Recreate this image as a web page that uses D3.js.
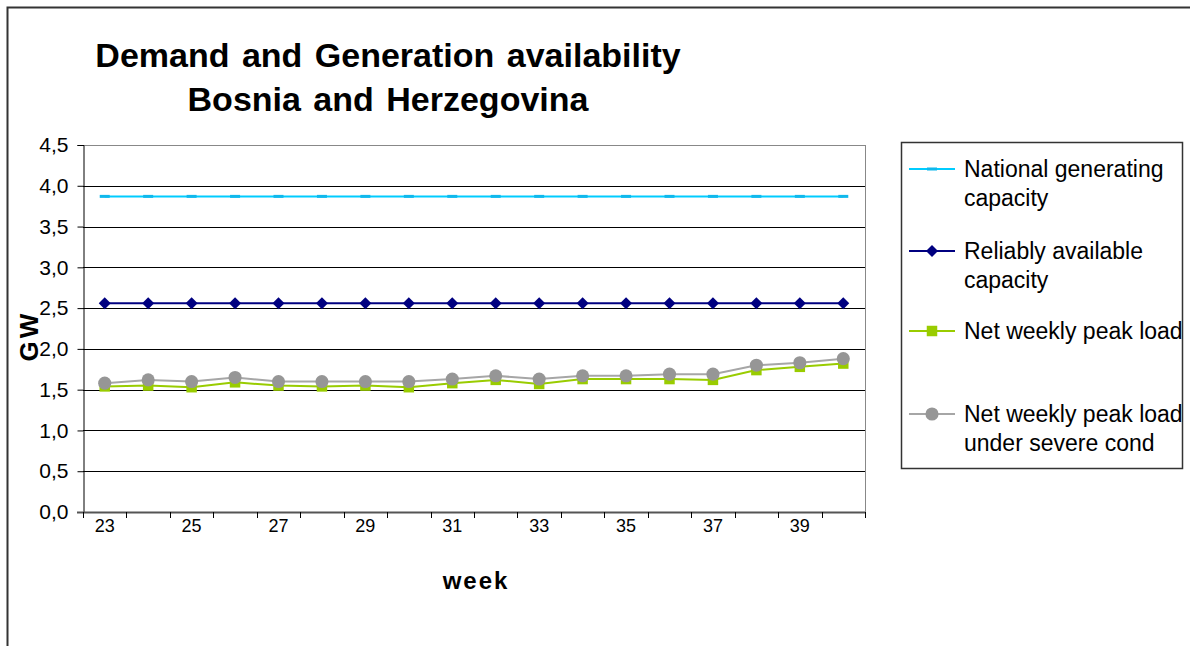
<!DOCTYPE html>
<html>
<head>
<meta charset="utf-8">
<script src="https://cdn.jsdelivr.net/npm/d3@7"></script>
<style>
  body { margin: 0; background: #fff; }
  svg { font-family: Arial, "Liberation Sans", sans-serif; }
</style>
</head>
<body>
<svg width="1190" height="646"></svg>
<script>
// Data
const weeks = [23, 24, 25, 26, 27, 28, 29, 30, 31, 32, 33, 34, 35, 36, 37, 38, 39, 40];
const nationalCapacity = [3.87, 3.87, 3.87, 3.87, 3.87, 3.87, 3.87, 3.87, 3.87, 3.87, 3.87, 3.87, 3.87, 3.87, 3.87, 3.87, 3.87, 3.87];
const reliableCapacity = [2.56, 2.56, 2.56, 2.56, 2.56, 2.56, 2.56, 2.56, 2.56, 2.56, 2.56, 2.56, 2.56, 2.56, 2.56, 2.56, 2.56, 2.56];
const netPeakLoad = [1.54, 1.55, 1.53, 1.59, 1.55, 1.54, 1.55, 1.53, 1.58, 1.62, 1.57, 1.63, 1.63, 1.63, 1.62, 1.74, 1.78, 1.82];
const severePeakLoad = [1.58, 1.62, 1.60, 1.65, 1.60, 1.60, 1.60, 1.60, 1.63, 1.67, 1.63, 1.67, 1.67, 1.69, 1.69, 1.80, 1.83, 1.88];
const yTicks = [0, 0.5, 1, 1.5, 2, 2.5, 3, 3.5, 4, 4.5];
const xTickLabels = [23, 25, 27, 29, 31, 33, 35, 37, 39];
const titleLines = ["Demand and Generation availability", "Bosnia and Herzegovina"];

const series = [
    { name: ["National generating", "capacity"], values: nationalCapacity, color: "#00ccff", markerColor: "#10b8ec", marker: "dash" },
    { name: ["Reliably available", "capacity"], values: reliableCapacity, color: "#000080", markerColor: "#000080", marker: "diamond" },
    { name: ["Net weekly peak load"], values: netPeakLoad, color: "#99cc00", markerColor: "#99cc00", marker: "square" },
    { name: ["Net weekly peak load", "under severe cond"], values: severePeakLoad, color: "#a6a6a6", markerColor: "#969696", marker: "circle" }
];

const svg = d3.select("svg");

// Outer chart border (runs off the right and bottom edge)
svg.append("rect")
   .attr("x", 7.5).attr("y", 7.5)
   .attr("width", 1220).attr("height", 700)
   .attr("fill", "none")
   .attr("stroke", "#333").attr("stroke-width", 2);

// Plot area
const plot = { left: 83, right: 865, top: 145, bottom: 512 };

const x = d3.scaleBand()
            .domain(weeks)
            .range([plot.left, plot.right]);
const y = d3.scaleLinear()
            .domain([0, 4.5])
            .range([plot.bottom, plot.top]);
const cx = w => x(w) + x.bandwidth() / 2;

// Title
svg.selectAll(".title")
   .data(titleLines)
   .join("text")
   .attr("class", "title")
   .attr("x", 388)
   .attr("y", (d, i) => 67 + i * 44)
   .attr("text-anchor", "middle")
   .style("font-size", "34px")
   .style("font-weight", "bold")
   .style("word-spacing", "3px")
   .text(d => d);

// Plot frame (top and right) and gridlines
const grid = svg.append("g");
grid.selectAll("line")
    .data(yTicks.filter(t => t > 0))
    .join("line")
    .attr("x1", plot.left).attr("x2", plot.right)
    .attr("y1", d => Math.round(y(d)) + 0.5).attr("y2", d => Math.round(y(d)) + 0.5)
    .attr("stroke", d => d === 4.5 ? "#888" : "#000")
    .attr("stroke-width", 1);
grid.append("line")
    .attr("x1", plot.right + 0.5).attr("x2", plot.right + 0.5)
    .attr("y1", plot.top).attr("y2", plot.bottom)
    .attr("stroke", "#888");

// Y axis
const yAxis = svg.append("g")
    .attr("transform", `translate(${plot.left + 0.5},0)`)
    .call(d3.axisLeft(y)
            .tickValues(yTicks)
            .tickSize(6)
            .tickPadding(9)
            .tickFormat(d => d3.format(".1f")(d).replace(".", ",")));
yAxis.select(".domain").attr("stroke", "#000");
yAxis.selectAll(".tick line").attr("stroke", "#000");
yAxis.selectAll("text")
     .style("font-size", "21px")
     .style("font-family", "Arial, 'Liberation Sans', sans-serif")
     .attr("fill", "#000");

// X axis: ticks between categories, labels on every other week
const xAxis = svg.append("g");
xAxis.append("line")
     .attr("x1", plot.left - 6).attr("x2", plot.right)
     .attr("y1", plot.bottom + 0.5).attr("y2", plot.bottom + 0.5)
     .attr("stroke", "#555").attr("stroke-width", 2);
xAxis.selectAll(".xtick")
     .data(d3.range(weeks.length + 1))
     .join("line")
     .attr("class", "xtick")
     .attr("x1", i => Math.round(plot.left + i * x.bandwidth()) + 0.5)
     .attr("x2", i => Math.round(plot.left + i * x.bandwidth()) + 0.5)
     .attr("y1", plot.bottom).attr("y2", plot.bottom + 6)
     .attr("stroke", "#000");
xAxis.selectAll(".xlabel")
     .data(xTickLabels)
     .join("text")
     .attr("class", "xlabel")
     .attr("x", d => cx(d))
     .attr("y", 532)
     .attr("text-anchor", "middle")
     .style("font-size", "18px")
     .text(d => d);

// Axis titles
svg.append("text")
   .attr("x", 476).attr("y", 589)
   .attr("text-anchor", "middle")
   .style("font-size", "24px")
   .style("font-weight", "bold")
   .style("letter-spacing", "2px")
   .text("week");
svg.append("text")
   .attr("transform", "translate(38,336) rotate(-90)")
   .attr("text-anchor", "middle")
   .style("font-size", "26px")
   .style("font-weight", "bold")
   .style("letter-spacing", "3px")
   .text("GW");

// Marker drawing helper
function drawMarker(sel, s) {
    if (s.marker === "dash") {
        sel.append("rect").attr("x", -5).attr("y", -1.5).attr("width", 10).attr("height", 3).attr("fill", s.markerColor);
    } else if (s.marker === "diamond") {
        sel.append("path").attr("d", d3.symbol(d3.symbolSquare, 72)()).attr("transform", "rotate(45)").attr("fill", s.markerColor);
    } else if (s.marker === "square") {
        sel.append("path").attr("d", d3.symbol(d3.symbolSquare, 110)()).attr("fill", s.markerColor);
    } else {
        sel.append("path").attr("d", d3.symbol(d3.symbolCircle, 135)()).attr("fill", s.markerColor);
    }
}

// Series lines and markers
const line = d3.line()
               .x((d, i) => cx(weeks[i]))
               .y(d => y(d));

series.forEach(s => {
    const g = svg.append("g");
    g.append("path")
     .attr("d", line(s.values))
     .attr("fill", "none")
     .attr("stroke", s.color)
     .attr("stroke-width", 2);
    g.selectAll(".pt")
     .data(s.values)
     .join("g")
     .attr("class", "pt")
     .attr("transform", (d, i) => `translate(${cx(weeks[i])},${y(d)})`)
     .each(function () { drawMarker(d3.select(this), s); });
});

// Legend
const legendRowY = [169, 251, 331, 414];
const legend = svg.append("g");
legend.append("rect")
      .attr("x", 901.5).attr("y", 142.5)
      .attr("width", 281).attr("height", 326)
      .attr("fill", "#fff")
      .attr("stroke", "#333").attr("stroke-width", 1.5);

series.forEach((s, i) => {
    const row = legend.append("g").attr("transform", `translate(0,${legendRowY[i]})`);
    row.append("line")
       .attr("x1", 909).attr("x2", 955)
       .attr("y1", 0).attr("y2", 0)
       .attr("stroke", s.color).attr("stroke-width", 2);
    drawMarker(row.append("g").attr("transform", "translate(932,0)"), s);
    row.selectAll("text")
       .data(s.name)
       .join("text")
       .attr("x", 964)
       .attr("y", (d, j) => 8 + j * 29)
       .style("font-size", "23px")
       .text(d => d);
});
</script>
</body>
</html>
